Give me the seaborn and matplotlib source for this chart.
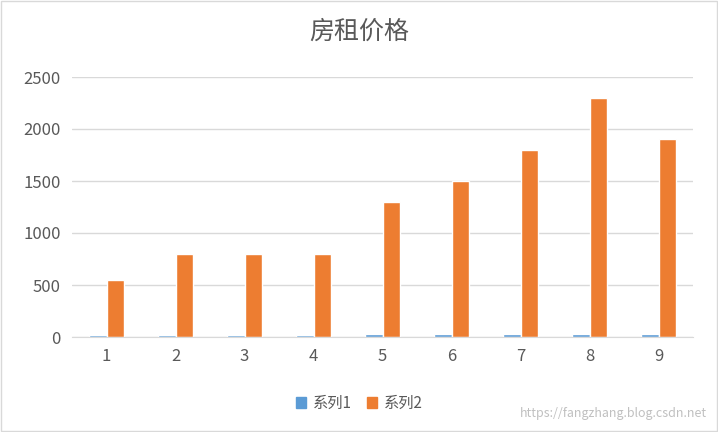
import numpy as np
import pandas as pd
import matplotlib
matplotlib.use("Agg")
import matplotlib.pyplot as plt
import seaborn as sns
from matplotlib.patches import Patch

categories = ["1", "2", "3", "4", "5", "6", "7", "8", "9"]
series1 = [15, 15, 15, 15, 28, 28, 28, 28, 28]
series2 = [550, 800, 800, 800, 1300, 1500, 1800, 2300, 1900]

df = pd.DataFrame({
    "x": categories * 2,
    "value": series1 + series2,
    "series": ["系列1"] * 9 + ["系列2"] * 9,
})

sns.set_style("white")
plt.rcParams['font.family'] = ['Noto Sans CJK SC', 'DejaVu Sans']

fig = plt.figure(figsize=(7.18, 4.32), dpi=100)
ax = fig.add_axes([72 / 718, 1 - 337 / 432, 621 / 718, 260 / 432])
sns.barplot(data=df, x="x", y="value", hue="series", saturation=1,
            palette=["#5B9BD5", "#ED7D31"], width=0.52, ax=ax, legend=False)

ax.set_ylim(0, 2500)
ax.set_yticks(range(0, 2501, 500))
ax.yaxis.grid(True, color="#d9d9d9", lw=1)
ax.set_axisbelow(True)
for s in ["top", "right", "left"]:
    ax.spines[s].set_visible(False)
ax.spines["bottom"].set_color("#d9d9d9")
ax.tick_params(axis="both", length=0, labelsize=12, colors="#595959", pad=8)
ax.set_xlabel("")
ax.set_ylabel("")
fig.text(0.5, 1 - 32 / 432, "房租价格", ha="center", va="center", fontsize=18, color="#595959")

handles = [Patch(color="#5B9BD5", label="系列1"), Patch(color="#ED7D31", label="系列2")]
fig.legend(handles=handles, loc="center", bbox_to_anchor=(0.5, 1 - 403 / 432), ncol=2,
           frameon=False, fontsize=11, handlelength=0.7, handleheight=0.7,
           columnspacing=1.0, handletextpad=0.4, labelcolor="#595959")
fig.text(0.985, 1 - 414 / 432, "https://fangzhang.blog.csdn.net", ha="right", va="center",
         fontsize=9, color="#c0c0c0")

fig.patches.append(plt.Rectangle((0.001, 0.002), 0.997, 0.996, transform=fig.transFigure,
                                 fill=False, ec="#d9d9d9", lw=1))
fig.savefig("out.png", dpi=100)
